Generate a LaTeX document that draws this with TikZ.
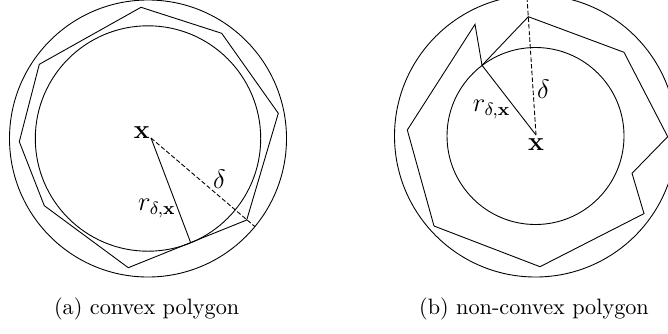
\documentclass[tikz,border=0pt]{standalone}
\usepackage{amsmath,amssymb}
\usepackage{bm}
\usepackage{tikz}
\usetikzlibrary{calc}

\tikzset{
  deltaline/.style={dash pattern=on 2pt off 1pt},
  lbl/.style={inner sep=1pt, font=\large}
}

\begin{document}
\begin{tikzpicture}[x=0.45pt, y=-0.45pt]
        \useasboundingbox (0,0) rectangle (668,333);
        \clip (0,0) rectangle (668,333);
        % (a) Circles
        \coordinate (ctrA) at (148,138.5);
        \coordinate (ptA) at (151,138);
        \draw (ctrA) circle[radius=138.5];
        \draw (ctrA) circle[radius=112.7];
        % (a) Convex polygon
        \draw (141,7.3) -- (221.7,33.3) -- (278.3,113.3) -- (246.7,220)
          -- (128.3,267.7) -- (44.3,205.7) -- (19.3,141.7) -- (39.3,64.3) -- cycle;
        % (a) Radius and distance
        \coordinate (tanA) at (190.7,242.7);
        \coordinate (farA) at (255,226.7);
        \draw (ptA) -- (tanA);
        \draw[deltaline] (ptA) -- (farA);
        \node[lbl] (xA) at (141.7,132.5) {$\mathbf{x}$};
        \node[lbl] (deltaA) at (219.3,179) {$\delta$};
        \node[lbl] (rA) at (157,208) {$r_{\delta,\mathbf{x}}$};
        % (b) Circles
        \coordinate (ctrB) at (535.5,136);
        \coordinate (ptB) at (536,135);
        \draw (ctrB) circle[radius=141];
        \draw (ctrB) circle[radius=88.5];
        % (b) Non-convex polygon
        \draw (528.3,16.7) -- (624,52.3) -- (667.7,136.7) -- (632,173.3)
          -- (644,213.6) -- (540,266.7) -- (434,226) -- (407.3,130)
          -- (475,24.3) -- (482,65.3) -- cycle;
        % (b) Radius and distance
        \coordinate (tanB) at (482,65.3);
        \coordinate (farB) at (526.8,-5.7);
        \draw (ptB) -- (tanB);
        \draw[deltaline] (ptB) -- (farB);
        \node[lbl] (xB) at (536,145) {$\mathbf{x}$};
        \node[lbl] (deltaB) at (543.3,89) {$\delta$};
        \node[lbl] (rB) at (491.7,109) {$r_{\delta,\mathbf{x}}$};
        % Captions
        \node (capA) at (146.7,309) {(a) convex polygon};
        \node (capB) at (534,309) {(b) non-convex polygon};
      \end{tikzpicture}
\end{document}
